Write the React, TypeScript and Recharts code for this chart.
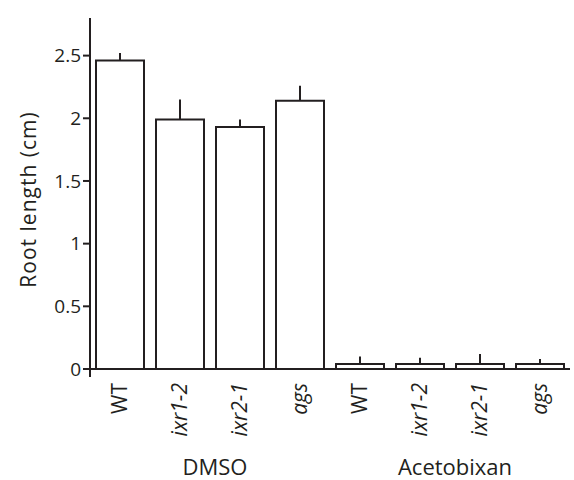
import { BarChart, Bar, XAxis, YAxis, ErrorBar, Label } from "recharts";

const genotypes = ["WT", "ixr1-2", "ixr2-1", "ags", "WT", "ixr1-2", "ixr2-1", "ags"];
const treatments = ["DMSO", "DMSO", "DMSO", "DMSO", "Acetobixan", "Acetobixan", "Acetobixan", "Acetobixan"];
const rootLength = [2.46, 1.99, 1.93, 2.14, 0.04, 0.04, 0.04, 0.04];
const rootError = [0.06, 0.16, 0.06, 0.12, 0.06, 0.05, 0.08, 0.04];
const yTicks = [0, 0.5, 1, 1.5, 2, 2.5];

const data = genotypes.map((g, i) => ({
  key: `${treatments[i]}-${g}-${i}`,
  genotype: g,
  treatment: treatments[i],
  length: rootLength[i],
  err: [0, rootError[i]],
}));

const INK = "#231f20";
const FONT = "'Open Sans', sans-serif";

function GenotypeTick(props: any) {
  const { x, y, index } = props;
  const d = data[index];
  if (!d) return null;
  const italic = d.genotype !== "WT";
  const tx = x + 7;
  const ty = y + 6;
  // group label sits between 2nd and 3rd bar of each group
  const firstOfGroup = data.findIndex((r) => r.treatment === d.treatment);
  const groupSize = data.filter((r) => r.treatment === d.treatment).length;
  const showGroup = index === firstOfGroup + groupSize / 2 - 1;
  const step = props.width / data.length;
  return (
    <g>
      {index === 0 && (
        // y axis runs a little past the baseline in the original
        <line x1={x - step / 2} x2={x - step / 2} y1={y - 9} y2={y} stroke={INK} strokeWidth={2} />
      )}
      <text
        x={tx}
        y={ty}
        transform={`rotate(-90, ${tx}, ${ty})`}
        textAnchor="end"
        fontSize={21}
        fontFamily={FONT}
        fontStyle={italic ? "italic" : "normal"}
        fill={INK}
      >
        {d.genotype}
      </text>
      {showGroup && (
        <text x={x + step / 2 + 5} y={y + 98} textAnchor="middle" fontSize={22} fontFamily={FONT} fill={INK}>
          {d.treatment}
        </text>
      )}
    </g>
  );
}

function YTitle(props: any) {
  const vb = props.viewBox;
  const cx = 36;
  const cy = vb.y + vb.height / 2 + 6;
  return (
    <text
      x={cx}
      y={cy}
      transform={`rotate(-90, ${cx}, ${cy})`}
      textAnchor="middle"
      fontSize={21}
      letterSpacing={1}
      fontFamily={FONT}
      fill={INK}
    >
      Root length (cm)
    </text>
  );
}

export default function App() {
  return (
    <div style={{ position: "absolute", left: 0, top: 0, background: "#fff" }}>
      <BarChart
        width={574}
        height={480}
        data={data}
        margin={{ top: 18, right: 4, bottom: 0, left: 0 }}
        barCategoryGap="20%"
      >
        <XAxis
          dataKey="key"
          type="category"
          height={111}
          axisLine={{ stroke: INK, strokeWidth: 2 }}
          tickLine={false}
          interval={0}
          tick={<GenotypeTick />}
        />
        <YAxis
          type="number"
          domain={[0, 2.8]}
          ticks={yTicks}
          width={90}
          tickSize={7}
          axisLine={{ stroke: INK, strokeWidth: 2 }}
          tickLine={{ stroke: INK, strokeWidth: 2 }}
          tick={{ fontSize: 19, fontFamily: FONT, fill: INK }}
          tickFormatter={(v) => String(v)}
        >
          <Label content={<YTitle />} />
        </YAxis>
        <Bar dataKey="length" fill="#ffffff" stroke={INK} strokeWidth={2} barSize={48} isAnimationActive={false}>
          <ErrorBar dataKey="err" width={0} stroke={INK} strokeWidth={2} direction="y" />
        </Bar>
      </BarChart>
    </div>
  );
}
